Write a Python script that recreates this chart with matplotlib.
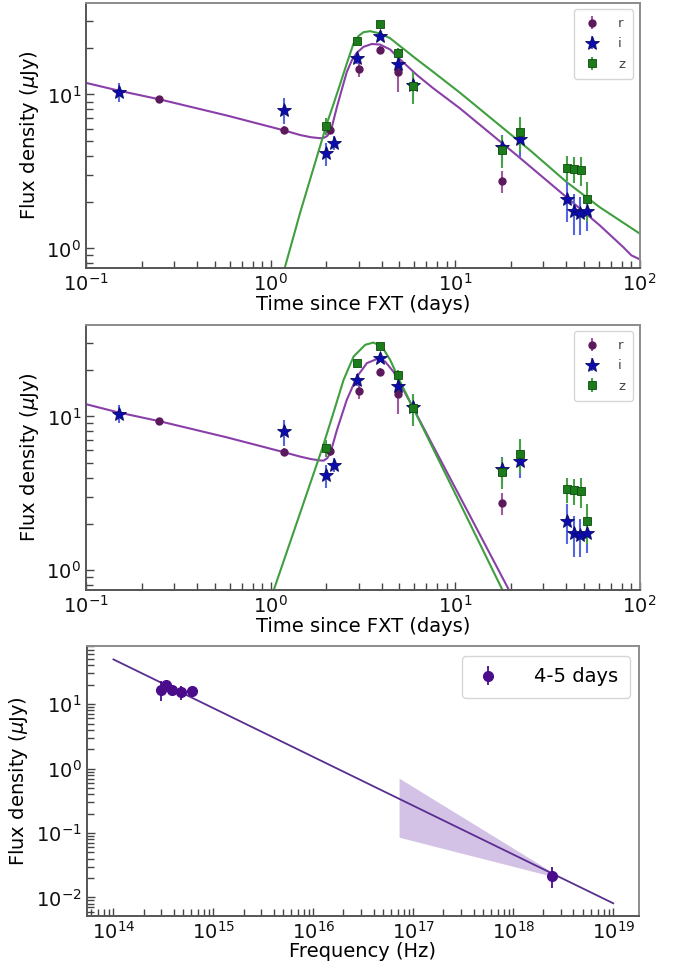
import matplotlib
matplotlib.use("Agg")
import matplotlib.pyplot as plt
from matplotlib.ticker import LogLocator, NullFormatter

# optical photometry (days since FXT, uJy)
t_r = [0.249, 1.18, 2.09, 3.03, 3.93, 4.90, 18.0]
F_r = [9.3, 5.86, 5.92, 14.6, 19.4, 14.0, 2.73]
e_r = [0.45, 0.35, 0.4, 1.7, 1.2, 3.6, 0.45]

t_i = [0.151, 1.18, 2.01, 2.21, 2.94, 3.93, 4.88, 5.90, 18.0, 22.5, 40.2, 44.0, 47.8, 51.6]
F_i = [10.4, 7.98, 4.14, 4.86, 17.3, 24.0, 15.7, 11.5, 4.55, 5.1, 2.08, 1.74, 1.69, 1.74]
e_i = [1.4, 1.55, 0.7, 0.5, 1.5, 1.3, 1.6, 2.5, 0.9, 1.15, 0.6, 0.52, 0.47, 0.45]

t_z = [2.0, 2.96, 3.93, 4.90, 5.90, 18.0, 22.5, 40.2, 44.0, 47.9, 51.6]
F_z = [6.25, 22.3, 28.6, 18.5, 11.3, 4.35, 5.7, 3.35, 3.30, 3.25, 2.08]
e_z = [0.8, 0.8, 0.8, 1.5, 2.6, 1.0, 1.45, 0.63, 0.63, 0.7, 0.6]

# model curves, panel 1
m1_ri_t = [0.1, 0.15, 0.25, 0.58, 1.18, 1.45, 1.65, 1.85, 1.94, 2.03, 2.10, 2.15, 2.29,
           2.44, 2.59, 2.76, 2.94, 3.19, 3.54, 3.93, 4.45, 5.04, 6.21, 7.60, 10.6, 21.6,
           40.2, 60.9, 81.5, 90.4, 100]
m1_ri_F = [11.9, 10.6, 9.3, 7.3, 5.85, 5.45, 5.28, 5.2, 5.22, 5.38, 5.7, 6.15, 8.3,
           10.9, 14.0, 16.7, 18.7, 20.4, 21.3, 21.1, 19.6, 16.9, 13.4, 11.0, 8.15, 4.03,
           2.15, 1.41, 1.02, 0.90, 0.85]
m1_z_t = [1.15, 1.19, 1.45, 2.02, 2.20, 2.39, 2.59, 2.82, 3.00, 3.19, 3.47, 3.93, 4.45,
          5.04, 6.21, 7.63, 10.6, 25.5, 40.2, 60.9, 100]
m1_z_F = [0.64, 0.736, 1.72, 6.47, 8.74, 11.8, 15.9, 21.5, 24.0, 25.4, 25.8, 24.9, 23.2,
          20.6, 16.9, 14.0, 10.3, 4.34, 2.70, 1.85, 1.25]

# model curves, panel 2
m2_ri_t = [0.1, 0.15, 0.25, 0.58, 1.18, 1.45, 1.65, 1.85, 1.94, 2.03, 2.11, 2.29, 2.59,
           2.94, 3.33, 3.77, 4.18, 4.64, 5.25, 5.94, 7.63, 11.6, 19.4, 21.0]
m2_ri_F = [12.0, 10.6, 9.3, 7.3, 5.85, 5.47, 5.28, 5.17, 5.15, 5.35, 5.76, 8.15, 12.8,
           18.1, 22.2, 23.6, 22.7, 19.5, 14.9, 11.3, 6.37, 2.46, 0.76, 0.62]
m2_z_t = [1.0, 1.04, 1.45, 1.92, 2.19, 2.49, 2.82, 3.26, 3.61, 4.01, 4.45, 5.04, 5.94,
          7.63, 11.6, 17.9, 19.5]
m2_z_F = [0.63, 0.74, 2.37, 6.35, 10.5, 17.3, 24.5, 29.2, 30.2, 28.5, 23.3, 16.8, 11.3,
          6.12, 2.2, 0.76, 0.62]

# SED at 4-5 days
nu_sed = [3.0e14, 3.37e14, 3.89e14, 4.72e14, 6.08e14, 2.42e18]
F_sed = [16.8, 20.1, 16.8, 15.3, 16.2, 0.0215]
e_sed = [5.7, 1.2, 1.0, 3.7, 1.0, 0.0077]
nu_fit = [1.0e14, 1.0e19]
F_fit = [49.5, 0.0081]
nu_bow = [7.2e16, 2.3e18]
F_bow_hi = [0.71, 0.0262]
F_bow_lo = [0.086, 0.0218]

c_r, c_i, c_z = "#5c1a5c", "#0b0bb0", "#1c7c1c"
c_mod_ri, c_mod_z = "#8a3fa8", "#3f9f3f"


def style_axis(ax):
    for s in ax.spines.values():
        s.set_color("#8c8c8c")
        s.set_linewidth(1.4)
    ax.spines["left"].set_color("#555555")
    ax.spines["bottom"].set_color("#555555")
    ax.tick_params(which="both", direction="in", top=False, right=False,
                   colors="#444444", labelcolor="#111111", labelsize=14)
    ax.tick_params(which="major", length=6, width=1)
    ax.tick_params(which="minor", length=5, width=1)
    ax.xaxis.set_minor_locator(LogLocator(base=10, subs=range(2, 10), numticks=100))
    ax.yaxis.set_minor_locator(LogLocator(base=10, subs=range(2, 10), numticks=100))
    ax.xaxis.set_minor_formatter(NullFormatter())
    ax.yaxis.set_minor_formatter(NullFormatter())


def light_curve(ax, ri_t, ri_F, z_t, z_F):
    ax.plot(ri_t, ri_F, color=c_mod_ri, lw=1.5)
    ax.plot(z_t, z_F, color=c_mod_z, lw=1.5)
    ax.errorbar(t_r, F_r, yerr=e_r, fmt="o", color=c_r, ecolor="#a05aa0",
                ms=5, elinewidth=1.5, capsize=0, label="r")
    ax.errorbar(t_i, F_i, yerr=e_i, fmt="*", color=c_i, mec="#0a0a60", ecolor="#5566e0",
                ms=10, mew=0.6, elinewidth=1.5, capsize=0, label="i")
    ax.errorbar(t_z, F_z, yerr=e_z, fmt="s", color=c_z, mec="#0d4d0d", ecolor="#48a048",
                ms=5.5, mew=0.6, elinewidth=1.5, capsize=0, label="z")
    ax.set_xscale("log")
    ax.set_yscale("log")
    ax.set_xlim(0.1, 100)
    ax.set_ylim(0.74, 39.5)
    style_axis(ax)
    ax.set_xlabel("Time since FXT (days)", fontsize=14, labelpad=0)
    ax.set_ylabel(r"Flux density ($\mu$Jy)", fontsize=14)
    leg = ax.legend(loc="upper right", fontsize=9.5, handletextpad=1.2, borderpad=0.6,
                    labelspacing=0.55, handlelength=1.5)
    for txt in leg.get_texts():
        txt.set_color("#444444")


fig = plt.figure(figsize=(6.8, 9.63), dpi=100)
ax1 = fig.add_axes([0.1265, 0.7212, 0.814, 0.276])
ax2 = fig.add_axes([0.1265, 0.3871, 0.814, 0.2758])
ax3 = fig.add_axes([0.1275, 0.0491, 0.8126, 0.2801])

light_curve(ax1, m1_ri_t, m1_ri_F, m1_z_t, m1_z_F)
light_curve(ax2, m2_ri_t, m2_ri_F, m2_z_t, m2_z_F)

ax3.fill_between(nu_bow, F_bow_lo, F_bow_hi, color="#d3c2e5", lw=0)
ax3.plot(nu_fit, F_fit, color="#5a2d91", lw=1.3)
ax3.errorbar(nu_sed, F_sed, yerr=e_sed, fmt="o", color="#4b0c8c", ms=7,
             elinewidth=1.3, capsize=0, label="4-5 days")
ax3.set_xscale("log")
ax3.set_yscale("log")
ax3.set_xlim(5.4e13, 1.82e19)
ax3.set_ylim(0.0052, 80)
style_axis(ax3)
ax3.set_xlabel("Frequency (Hz)", fontsize=14, labelpad=0)
ax3.set_ylabel(r"Flux density ($\mu$Jy)", fontsize=14)
ax3.legend(loc="upper right", fontsize=14, handletextpad=1.6, borderpad=0.6,
           handlelength=1.5)

fig.savefig("out.png", dpi=100)
